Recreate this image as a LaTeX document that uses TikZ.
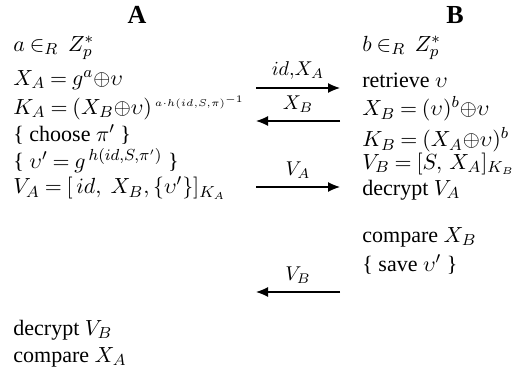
\documentclass[tikz,border=0pt]{standalone}
\usepackage{amsmath,amssymb}
\usepackage{fontspec}
\setmainfont{Liberation Serif}
\usetikzlibrary{arrows.meta, positioning}

\newcommand{\xor}{\mathord{\oplus}}
\newcommand{\tightmath}{\thickmuskip=4mu\relax\medmuskip=2mu\relax}

\begin{document}
\begin{tikzpicture}[x=0.5pt, y=-0.5pt,
		party/.style={font=\fontsize{13}{15}\selectfont\bfseries, inner sep=0pt},
		stepline/.style={anchor=west, inner sep=0pt, font=\fontsize{11}{13}\selectfont\tightmath},
		msg/.style={-{Latex[length=6pt, width=5pt]}, line width=0.6pt},
		msglabel/.style={midway, above=4pt, inner sep=0pt, font=\normalsize},
		]
		\useasboundingbox (0,0) rectangle (515,374);
		
		% ---- party A (left) ----
		\node[party] (A) at (137,15) {A};
		\node[stepline] (a1) at (13,48) {$a \in_R\; Z_p^{*}$};
		\node[stepline] (a2) at (13,80) {$X_A = g^{a} \xor \upsilon$};
		\node[stepline] (a3) at (13,108) {$K_A = (X_B \xor \upsilon)^{\,\scriptscriptstyle a \cdot h(id,S,\pi)^{-1}}$};
		\node[stepline] (a4) at (13,135) {\{ choose $\pi'$ \}};
		\node[stepline] (a5) at (13,161) {\{ $\upsilon' = g^{\,h(id,S,\pi')}$ \}};
		\node[stepline] (a6) at (13,188) {$V_A = [\,id,\ X_B, \{\upsilon'\}]_{K_A}$};
		\node[stepline] (a7) at (13,330) {decrypt $V_B$};
		\node[stepline] (a8) at (13,357) {compare $X_A$};
		
		% ---- party B (right) ----
		\node[party] (B) at (455,15) {B};
		\node[stepline] (b1) at (362,48) {$b \in_R\; Z_p^{*}$};
		\node[stepline] (b2) at (362,80) {retrieve $\upsilon$};
		\node[stepline] (b3) at (362,109) {$X_B = (\upsilon)^{b} \xor \upsilon$};
		\node[stepline] (b4) at (362,140) {$K_B = (X_A \xor \upsilon)^{b}$};
		\node[stepline] (b5) at (362,164) {$V_B = [S,\, X_A]_{K_B}$};
		\node[stepline] (b6) at (362,190) {decrypt $V_A$};
		\node[stepline] (b7) at (362,237) {compare $X_B$};
		\node[stepline] (b8) at (362,265) {\{ save $\upsilon'$ \}};
		
		% ---- messages ----
		\coordinate (m1l) at (256,88);  \coordinate (m1r) at (340,88);
		\coordinate (m2l) at (256,121); \coordinate (m2r) at (340,121);
		\coordinate (m3l) at (256,187); \coordinate (m3r) at (340,187);
		\coordinate (m4l) at (256,292); \coordinate (m4r) at (340,292);
		\draw[msg] (m1l) -- (m1r) node[msglabel] (l1) {$id{,}X_A$};
		\draw[msg] (m2r) -- (m2l) node[msglabel] (l2) {$X_B$};
		\draw[msg] (m3l) -- (m3r) node[msglabel] (l3) {$V_A$};
		\draw[msg] (m4r) -- (m4l) node[msglabel] (l4) {$V_B$};
		
	\end{tikzpicture}
\end{document}
